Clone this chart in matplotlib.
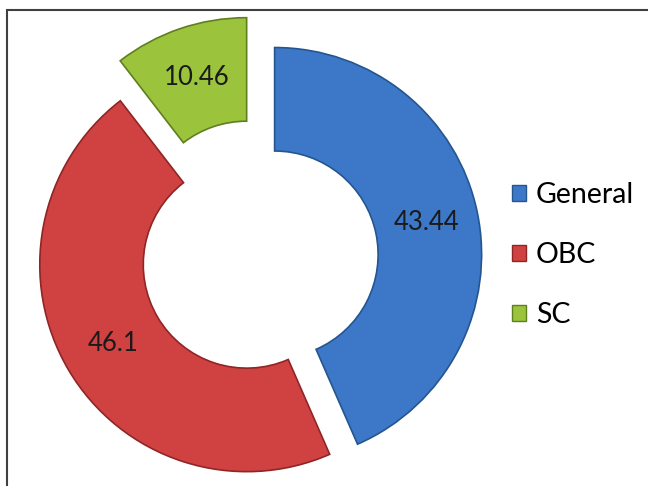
import numpy as np
import matplotlib.pyplot as plt
from matplotlib.patches import Rectangle, Patch

# data
categories = ["General", "OBC", "SC"]
values = [43.44, 46.1, 10.46]
value_labels = ["43.44", "46.1", "10.46"]
colors = ["#3d78c8", "#d04242", "#9bc43c"]
edge_colors = ["#24558f", "#8f2525", "#5f7f1f"]
explode = [0.082, 0.063, 0.17]

plt.rcParams['font.family'] = ['Lato', 'DejaVu Sans']

fig = plt.figure(figsize=(6.48, 4.86), dpi=100)
ax = fig.add_axes([0, 0, 1, 1])

wedges, _ = ax.pie(values, colors=colors, explode=explode, startangle=90,
                   counterclock=False, radius=1.0,
                   wedgeprops=dict(width=0.5, linewidth=1.2))
for w, ec in zip(wedges, edge_colors):
    w.set_edgecolor(ec)

# value labels in the middle of each ring segment
for w, txt in zip(wedges, value_labels):
    ang = np.deg2rad((w.theta1 + w.theta2) / 2)
    cx, cy = w.center
    ax.text(cx + 0.75 * np.cos(ang), cy + 0.75 * np.sin(ang), txt,
            ha='center', va='center', fontsize=18.5, color='#1a1a1a')

# map data units to pixels: center at (258, 258) px, radius 207 px
scale = 207.0
ax.set_xlim(-258 / scale, (648 - 258) / scale)
ax.set_ylim(-(486 - 258) / scale, 258 / scale)
ax.set_aspect('equal')
ax.axis('off')

handles = [Patch(facecolor=c, edgecolor=e) for c, e in zip(colors, edge_colors)]
fig.legend(handles, categories, loc='center left', bbox_to_anchor=(0.79, 0.475),
           frameon=False, fontsize=20.5, labelspacing=1.2, handlelength=0.5,
           handleheight=0.5, handletextpad=0.35, borderpad=0, borderaxespad=0)

# outer frame
fig.patches.append(Rectangle((7 / 648, -0.05), 1.0, 1 - 10 / 486 + 0.05,
                             transform=fig.transFigure, fill=False,
                             edgecolor='#404040', linewidth=1.5))

fig.savefig("out.png", dpi=100)
